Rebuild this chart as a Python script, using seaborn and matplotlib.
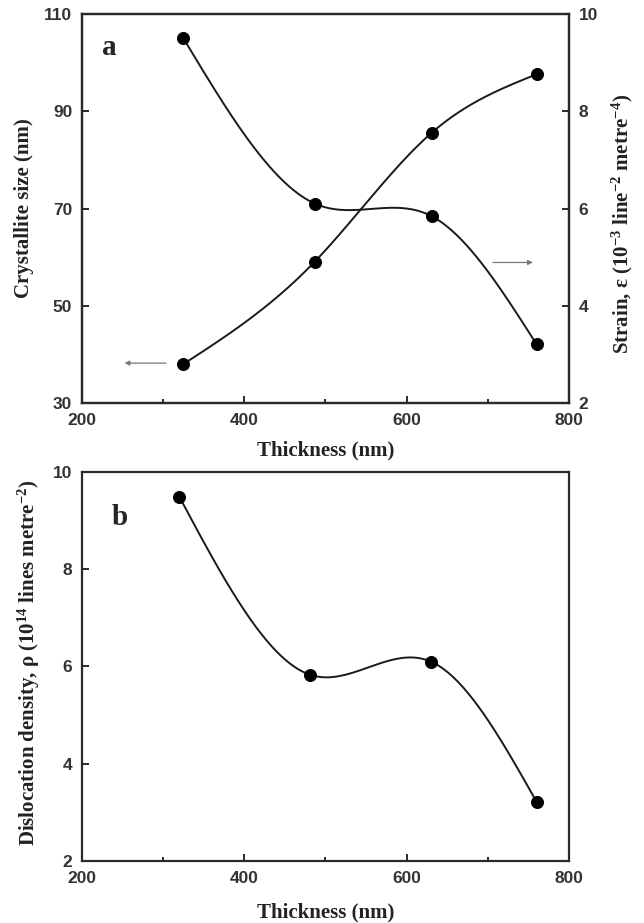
import numpy as np
import pandas as pd
import matplotlib
matplotlib.use("Agg")
import matplotlib.pyplot as plt
import seaborn as sns

# Data
thickness_a = [325, 487, 631, 760]
crystallite_size = [38.0, 59.1, 85.6, 97.6]
strain = [9.50, 6.10, 5.84, 3.21]

thickness_b = [320, 481, 630, 760]
dislocation = [9.49, 5.83, 6.10, 3.22]


def smooth(x, y, n=300):
    # natural cubic spline through the points (the curve drawn through the markers)
    x = np.asarray(x, float)
    y = np.asarray(y, float)
    h = np.diff(x)
    m = len(x)
    A = np.zeros((m, m))
    b = np.zeros(m)
    A[0, 0] = A[-1, -1] = 1
    for i in range(1, m - 1):
        A[i, i - 1] = h[i - 1]
        A[i, i] = 2 * (h[i - 1] + h[i])
        A[i, i + 1] = h[i]
        b[i] = 6 * ((y[i + 1] - y[i]) / h[i] - (y[i] - y[i - 1]) / h[i - 1])
    M = np.linalg.solve(A, b)
    xs = np.linspace(x[0], x[-1], n)
    idx = np.clip(np.searchsorted(x, xs) - 1, 0, m - 2)
    t0, t1 = x[idx], x[idx + 1]
    hh = t1 - t0
    ys = ((M[idx] * (t1 - xs) ** 3 + M[idx + 1] * (xs - t0) ** 3) / (6 * hh)
          + (y[idx] / hh - M[idx] * hh / 6) * (t1 - xs)
          + (y[idx + 1] / hh - M[idx + 1] * hh / 6) * (xs - t0))
    return pd.DataFrame({"x": xs, "y": ys})


sns.set_style("ticks")
plt.rcParams["font.family"] = ["Liberation Serif", "DejaVu Serif"]
plt.rcParams["mathtext.fontset"] = "custom"
plt.rcParams["mathtext.rm"] = "Liberation Serif:bold"
plt.rcParams["mathtext.default"] = "rm"

tick_font = {"family": "Liberation Sans", "weight": "bold", "size": 12.5}
label_kw = dict(fontsize=15, fontweight="bold", color="#222222")
line_kw = dict(color="#1a1a1a", linewidth=1.4, legend=False)
pt_kw = dict(color="black", s=75, edgecolor="black", zorder=5, legend=False)

fig = plt.figure(figsize=(6.44, 9.23), dpi=100)
ax1 = fig.add_axes([0.1273, 0.5634, 0.7562, 0.4214])
ax2 = ax1.twinx()
ax3 = fig.add_axes([0.1273, 0.0672, 0.7562, 0.4214])


def style_axis(ax):
    for sp in ax.spines.values():
        sp.set_linewidth(1.6)
        sp.set_color("#2a2a2a")
    ax.tick_params(direction="in", length=5, width=1.4, colors="#2a2a2a", pad=7)
    for lab in ax.get_xticklabels() + ax.get_yticklabels():
        lab.set_fontfamily(tick_font["family"])
        lab.set_fontweight(tick_font["weight"])
        lab.set_fontsize(tick_font["size"])
        lab.set_color("#333333")


# panel a
sns.lineplot(data=smooth(thickness_a, crystallite_size), x="x", y="y", ax=ax1, **line_kw)
sns.scatterplot(x=thickness_a, y=crystallite_size, ax=ax1, **pt_kw)
sns.lineplot(data=smooth(thickness_a, strain), x="x", y="y", ax=ax2, **line_kw)
sns.scatterplot(x=thickness_a, y=strain, ax=ax2, **pt_kw)

ax1.set_xlim(200, 800)
ax1.set_ylim(30, 110)
ax2.set_ylim(2, 10)
ax1.set_xticks([200, 400, 600, 800])
ax1.set_xticks([300, 500, 700], minor=True)
ax1.set_yticks([30, 50, 70, 90, 110])
ax2.set_yticks([2, 4, 6, 8, 10])
style_axis(ax1)
style_axis(ax2)
ax1.tick_params(axis="x", which="minor", direction="in", length=3, width=1.4)
ax2.tick_params(axis="y", right=True, left=False)

ax1.set_xlabel("Thickness (nm)", **label_kw)
ax1.set_ylabel("Crystallite size (nm)", **label_kw)
ax2.set_ylabel("Strain, ε (10$^{-3}$ line$^{-2}$ metre$^{-4}$)", rotation=90, **label_kw)
ax1.xaxis.set_label_coords(0.5, -0.096)
ax1.yaxis.set_label_coords(-0.098, 0.50)
ax2.yaxis.set_label_coords(1.084, 0.46)

ax1.text(234, 103.2, "a", fontsize=21, fontweight="bold", ha="center", va="center")
ax1.annotate("", xy=(249, 38.2), xytext=(307, 38.2),
             arrowprops=dict(arrowstyle="-|>", color="#777777", lw=0.9, mutation_scale=7))
ax1.annotate("", xy=(759, 58.9), xytext=(703, 58.9),
             arrowprops=dict(arrowstyle="-|>", color="#777777", lw=0.9, mutation_scale=7))

# panel b
sns.lineplot(data=smooth(thickness_b, dislocation), x="x", y="y", ax=ax3, **line_kw)
sns.scatterplot(x=thickness_b, y=dislocation, ax=ax3, **pt_kw)
ax3.set_xlim(200, 800)
ax3.set_ylim(2, 10)
ax3.set_xticks([200, 400, 600, 800])
ax3.set_xticks([300, 500, 700], minor=True)
ax3.set_yticks([2, 4, 6, 8, 10])
style_axis(ax3)
ax3.tick_params(axis="x", which="minor", direction="in", length=3, width=1.4)
ax3.set_xlabel("Thickness (nm)", **label_kw)
ax3.set_ylabel("Dislocation density, ρ (10$^{14}$ lines metre$^{-2}$)", **label_kw)
ax3.xaxis.set_label_coords(0.5, -0.108)
ax3.yaxis.set_label_coords(-0.082, 0.51)
ax3.text(247, 9.07, "b", fontsize=21, fontweight="bold", ha="center", va="center")

fig.savefig("out.png", dpi=100)
